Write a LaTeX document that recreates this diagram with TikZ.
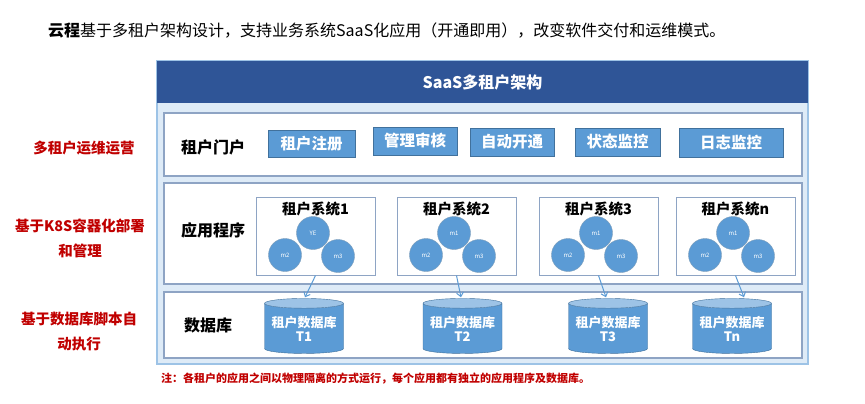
\documentclass[tikz,border=0pt]{standalone}
\usepackage{fontspec}
\setmainfont{Noto Sans CJK SC}
\usetikzlibrary{shapes.geometric,arrows.meta}

\definecolor{testata}{HTML}{2F5597}
\definecolor{sfondo}{HTML}{DEEBF7}
\definecolor{cornice}{HTML}{9DC3E6}
\definecolor{bordo}{HTML}{8EA4C4}
\definecolor{blu}{HTML}{5B9BD5}
\definecolor{blusc}{HTML}{41719C}
\definecolor{azzurro}{HTML}{9DC3E6}
\definecolor{rosso}{HTML}{C00000}

\begin{document}
\begin{tikzpicture}[x=1pt,y=-1pt,>={Straight Barb[length=4pt,width=7pt]},
    pannello/.style={draw=bordo,fill=white,line width=1.2pt},
    bottone/.style={draw=blusc,fill=blu,text=white,inner sep=0pt,
        font=\bfseries\fontsize{15.5}{18}\selectfont},
    sistema/.style={draw=bordo,fill=white,line width=1pt,minimum width=119pt,minimum height=78pt},
    modulo/.style={circle,draw=blusc!70,fill=blu,text=white,minimum size=33pt,inner sep=0pt,
        font=\fontsize{6}{7}\selectfont},
    db/.style={cylinder,shape border rotate=90,aspect=0.15,draw=blusc,
        cylinder uses custom fill,cylinder body fill=blu,cylinder end fill=azzurro,
        minimum width=79pt,minimum height=55pt,inner sep=0pt,text=white,align=center,
        font=\bfseries\fontsize{13}{14}\selectfont},
    etichetta/.style={font=\bfseries\fontsize{16}{19}\selectfont},
    nota/.style={text=rosso,align=center,font=\bfseries\fontsize{14.5}{25}\selectfont}]
        \useasboundingbox (0,0) rectangle (865,404);
        % Titolo
        \node[anchor=west,inner sep=0pt,font=\fontsize{16}{19}\selectfont] (titolo) at (48,31)
            {\textbf{云程}基于多租户架构设计，支持业务系统SaaS化应用（开通即用），改变软件交付和运维模式。};
        % Cornice
        \draw[fill=sfondo,draw=cornice,line width=1.5pt] (157,61) rectangle (808,364);
        \fill[testata] (157,61) rectangle (808,103);
        \node[text=white,font=\bfseries\fontsize{16}{19}\selectfont] (testa) at (482.5,82) {SaaS多租户架构};
        % Righe
        \draw[pannello] (164,113) rectangle (802,176);
        \draw[pannello] (164,183) rectangle (802,284);
        \draw[pannello] (164,292) rectangle (802,358);
        \node[etichetta] (portale) at (213,147) {租户门户};
        \node[etichetta] (app) at (213,230) {应用程序};
        \node[etichetta] (dati) at (208,325) {数据库};
        % Bottoni
        \foreach \nome/\x/\y/\w/\h [count=\i] in {租户注册/311.5/143.5/87/27,管理审核/415/141/84/28,
            自动开通/512/142/84/28,状态监控/617.5/142/85/28,日志监控/731/142.5/104/29}
            \node[bottone,minimum width=\w pt,minimum height=\h pt] (b\i) at (\x,\y) {\nome};
        % Sistemi
        \foreach \x/\n/\m [count=\i] in {256/1/YE,397/2/m1,539/3/m1,676/n/m1} {
            \node[sistema] (sys\i) at (\x+59.5,236) {};
            \node[font=\bfseries\fontsize{14.5}{17}\selectfont] (tit\i) at (\x+59.5,209) {租户系统\n};
            \node[modulo] (m1\i) at (\x+57,233) {\m};
            \node[modulo] (m2\i) at (\x+29,255) {m2};
            \node[modulo] (m3\i) at (\x+82,256) {m3};
        }
        % Database
        \foreach \x/\t [count=\i] in {304/T1,462.5/T2,608/T3,732/Tn}
            \node[db] (db\i) at (\x,328.5) {租户数据库\\\t};
        % Frecce
        \foreach \i/\dx in {1/1,2/-1.5,3/-2,4/12}
            \draw[->,draw=blu,line width=1pt] (sys\i.south) -- ([xshift=\dx pt,yshift=1pt]db\i.north);
        % Annotazioni
        \node[nota] (n1) at (84,148) {多租户运维运营};
        \node[nota] (n2) at (80,238.5) {基于K8S容器化部署\\和管理};
        \node[nota] (n3) at (79,332) {基于数据库脚本自\\动执行};
        \node[anchor=west,inner sep=0pt,text=rosso,font=\bfseries\fontsize{11}{13}\selectfont] (nota) at (161,379)
            {注：各租户的应用之间以物理隔离的方式运行，每个应用都有独立的应用程序及数据库。};
    \end{tikzpicture}
\end{document}
